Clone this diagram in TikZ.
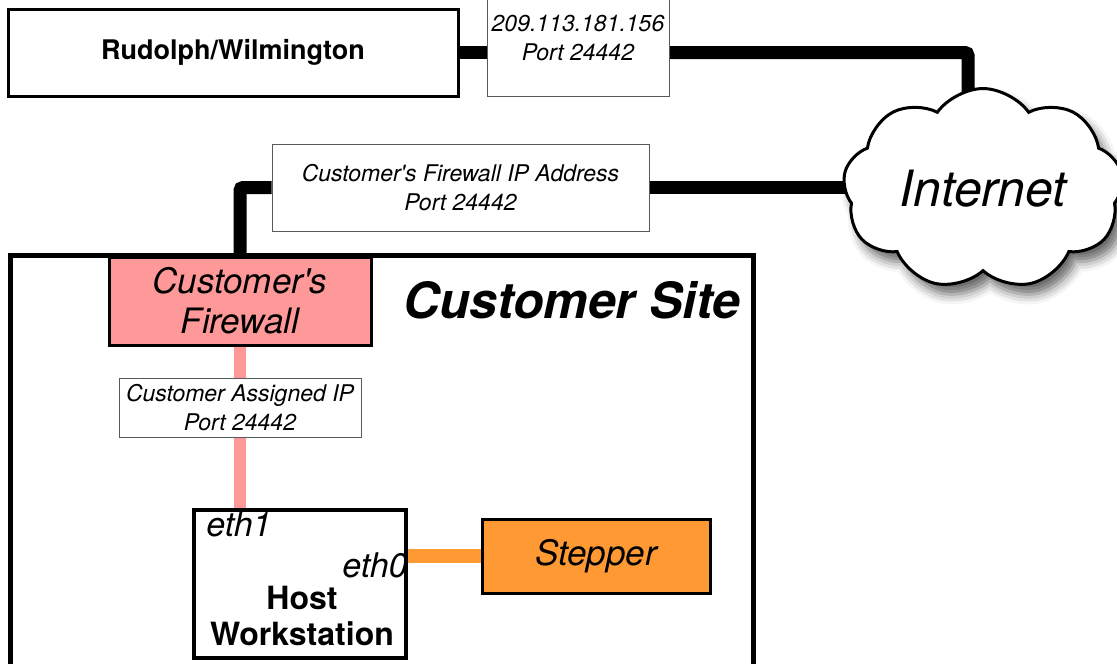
\documentclass[tikz,border=0pt]{standalone}
\usepackage{fontspec}
\setmainfont{TeX Gyre Heros}
\usetikzlibrary{positioning,shapes.symbols,shadows.blur,backgrounds}

\definecolor{fwpink}{RGB}{255,153,153}
\definecolor{stepperorange}{RGB}{255,153,51}

\begin{document}
\begin{tikzpicture}[
    x=1pt, y=-1pt,
    box/.style={draw,line width=3pt,inner sep=0pt,fill=white,align=center},
    tag/.style={draw=black!65,line width=1pt,fill=white,inner sep=0pt,align=center,
        font=\fontsize{23}{29.5}\selectfont\itshape},
    cable/.style={line width=13pt,rounded corners=3pt},
    ]
    \useasboundingbox (0,0) rectangle (1117,664);

    % the customer's premises
    \node(site) [draw,line width=5pt,minimum width=743pt,minimum height=460pt] at (381.5,485) {};
    \node(sitename) [font=\fontsize{50}{50}\selectfont\bfseries\itshape] at (572,300) {Customer Site};

    \node(rudolph) [box,minimum width=450pt,minimum height=87pt,
        font=\fontsize{27}{30}\selectfont\bfseries] at (233,52.5) {Rudolph/Wilmington};
    \node(ipbox) [tag,minimum width=182pt,minimum height=116pt] at (578,38) {209.113.181.156\\Port 24442};

    \node(cloud) [cloud,cloud puffs=9,cloud puff arc=110,aspect=1.4,draw,line width=3pt,fill=white,inner sep=0pt,
        minimum width=280pt,minimum height=192pt,
        blur shadow={shadow xshift=7pt,shadow yshift=-10pt,shadow blur radius=10pt,shadow opacity=60},
        font=\fontsize{50}{50}\selectfont\itshape] at (983,189) {Internet};

    \node(fwip) [tag,minimum width=377pt,minimum height=87pt] at (460.5,187.5)
        {Customer\textquotesingle s Firewall IP Address\\Port 24442};

    \node(firewall) [box,fill=fwpink,minimum width=262pt,minimum height=88pt,
        font=\fontsize{35}{40}\selectfont\itshape] at (240,301) {Customer\textquotesingle s\\Firewall};
    \node(assigned) [tag,minimum width=242pt,minimum height=59pt] at (240,407.5) {Customer Assigned IP\\Port 24442};

    \node(host) [box,line width=3.5pt,minimum width=212pt,minimum height=148pt] at (300,584) {};
    \node(eth1) [below right=3pt and 14pt of host.north west,inner sep=0pt,
        font=\fontsize{34}{34}\selectfont\itshape] {eth1};
    \node(eth0) [left=0pt of host.east,yshift=19pt,inner sep=0pt,
        font=\fontsize{34}{34}\selectfont\itshape] {eth0};
    \node(hostname) [align=center,inner sep=0pt,font=\fontsize{32}{36}\selectfont\bfseries] at (302,616) {Host\\Workstation};

    \node(stepper) [box,fill=stepperorange,minimum width=228pt,minimum height=74pt,
        font=\fontsize{35}{35}\selectfont\itshape] at (596,556) {Stepper};

    \begin{scope}[on background layer]
        \draw[cable] (rudolph.east) -- (ipbox.west |- rudolph.east);
        \draw[cable] (ipbox.east |- rudolph.east) -| ([xshift=-15pt]cloud.center);
        \draw[cable] (fwip.east) -- (fwip.east -| cloud.center);
        \draw[cable] (fwip.west) -| (firewall.north);
        \draw[cable,line width=12pt,fwpink] (firewall.south) -- (assigned.north);
        \draw[cable,line width=12pt,fwpink] (assigned.south) -- (assigned.south |- host.north);
        \draw[cable,line width=14pt,stepperorange] (stepper.west -| host.east) -- (stepper.west);
    \end{scope}

\end{tikzpicture}
\end{document}
